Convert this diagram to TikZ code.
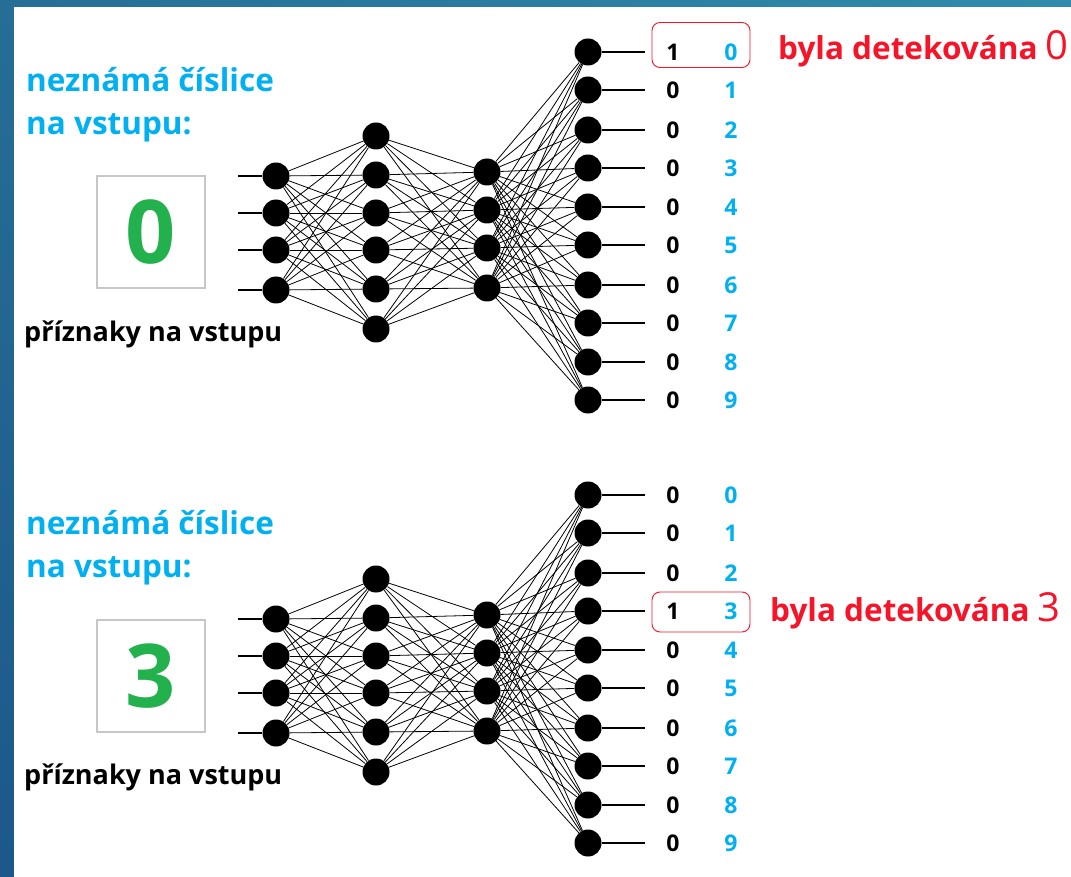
\documentclass[tikz,border=0pt]{standalone}
\usepackage{fontspec}
\usetikzlibrary{shadings}
\setmainfont{Open Sans}
\definecolor{cblue}{RGB}{0,176,240}
\definecolor{cred}{RGB}{245,20,40}
\definecolor{cgreen}{RGB}{34,177,76}
\definecolor{bgA}{RGB}{38,110,150}
\definecolor{bgB}{RGB}{48,140,170}
\definecolor{bgC}{RGB}{28,88,138}
\definecolor{bgD}{RGB}{40,120,160}
\begin{document}
\begin{tikzpicture}[x=1pt,y=-1pt,
  neuron/.style={circle,fill=black,minimum size=27pt,inner sep=0pt},
  conn/.style={black,line width=0.8pt},
  stub/.style={black,line width=1.6pt},
  bluetxt/.style={text=cblue,font=\bfseries\fontsize{31.5}{34}\selectfont,anchor=west,inner sep=0pt},
  feattxt/.style={text=black,font=\bfseries\fontsize{27}{30}\selectfont,anchor=west,inner sep=0pt},
  digbox/.style={draw=black!22,line width=1.5pt,minimum width=108pt,minimum height=112pt,inner sep=0pt,text=cgreen,font=\bfseries\fontsize{88}{88}\selectfont},
  outbit/.style={text=black,font=\bfseries\fontsize{23}{25}\selectfont,inner sep=0pt},
  outidx/.style={text=cblue,font=\bfseries\fontsize{23}{25}\selectfont,inner sep=0pt},
  redbox/.style={draw=cred,line width=0.9pt,rounded corners=8pt,minimum width=98pt,inner sep=0pt},
  redtxt/.style={text=cred,anchor=west,inner sep=0pt,font=\bfseries\fontsize{31.5}{34}\selectfont}]
\useasboundingbox (0,0) rectangle (1071,877);
\shade[upper left=bgA,upper right=bgB,lower left=bgC,lower right=bgD] (0,0) rectangle (1071,877);
\fill[white] (14,7) rectangle (1071,877);

\foreach \b/\oy in {t/0,b/443}{
  \foreach \y [count=\i] in {176,213,250,290}{
    \node[neuron] (\b i\i) at (276,\y+\oy) {};
    \coordinate (\b in\i) at (238,\y+\oy);
    \draw[stub] (\b in\i) -- (\b i\i);
  }
  \foreach \y [count=\i] in {136,175,213,250,289,329}
    \node[neuron] (\b h\i) at (376,\y+\oy) {};
  \foreach \y [count=\i] in {172,210,248,288}
    \node[neuron] (\b g\i) at (487,\y+\oy) {};
  \foreach \y [count=\i] in {52,90,130,168,207,245,285,323,362,400}{
    \node[neuron] (\b o\i) at (588,\y+\oy) {};
    \coordinate (\b out\i) at (645,\y+\oy);
    \draw[stub] (\b o\i) -- (\b out\i);
  }
  \foreach \i in {1,...,4}
    \foreach \j in {1,...,6}
      \draw[conn] (\b i\i) -- (\b h\j);
  \foreach \i in {1,...,6}
    \foreach \j in {1,...,4}
      \draw[conn] (\b h\i) -- (\b g\j);
  \foreach \i in {1,...,4}
    \foreach \j in {1,...,10}
      \draw[conn] (\b g\i) -- (\b o\j);
  \foreach \y [count=\i] in {52,90,130,168,207,245,285,323,362,400}{
    \pgfmathtruncatemacro{\d}{\i-1}
    \node[outidx] (\b x\i) at (731,\y+\oy) {\d};
  }
  \node[bluetxt] (\b q1) at (26,80+\oy) {neznámá číslice};
  \node[bluetxt] (\b q2) at (26,128+\oy) {na vstupu:};
  \node[feattxt] (\b f) at (24,334+\oy) {příznaky na vstupu};
}
\foreach \y [count=\i] in {52,90,130,168,207,245,285,323,362,400}{
  \pgfmathtruncatemacro{\v}{\i==1 ? 1 : 0}
  \node[outbit] (tv\i) at (673,\y) {\v};
}
\foreach \y [count=\i] in {52,90,130,168,207,245,285,323,362,400}{
  \pgfmathtruncatemacro{\v}{\i==4 ? 1 : 0}
  \node[outbit] (bv\i) at (673,\y+443) {\v};
}
\node[digbox] (tbox) at (151,232) {0};
\node[digbox] (bbox) at (151,676) {3};
\node[redbox,minimum height=45pt] (tr) at (701,45) {};
\node[redbox,minimum height=40pt] (br) at (701,612) {};
\node[redtxt] (tl) at (778,49) {byla detekována \fontsize{40}{40}\mdseries 0};
\node[redtxt] (bl) at (770,611) {byla detekována \fontsize{40}{40}\mdseries 3};
\end{tikzpicture}
\end{document}
